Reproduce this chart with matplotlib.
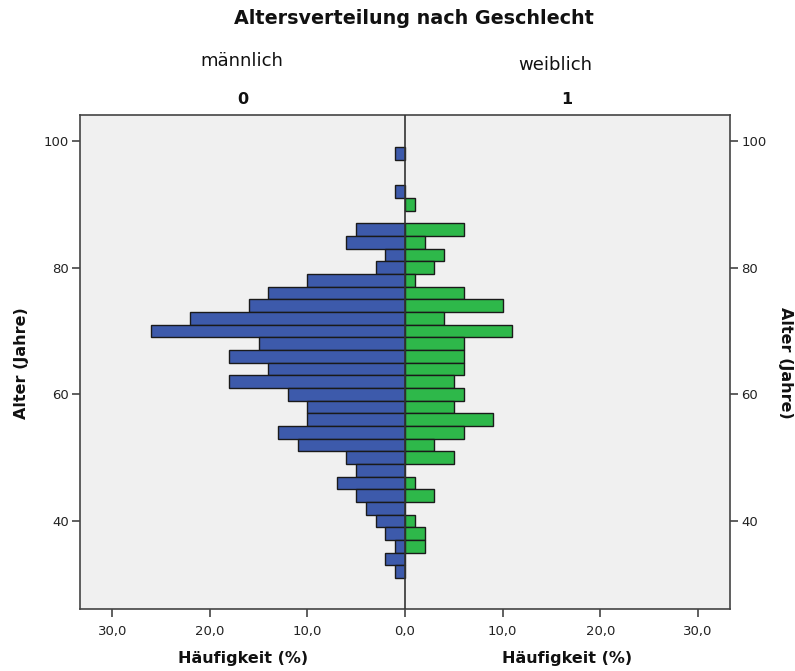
import matplotlib
matplotlib.use("Agg")
import matplotlib.pyplot as plt
from matplotlib.ticker import FixedLocator, FuncFormatter

# Age bins (centre of 2-year bins)
ages = [98, 96, 94, 92, 90, 88, 86, 84, 82, 80, 78, 76, 74, 72, 70, 68, 66, 64,
        62, 60, 58, 56, 54, 52, 50, 48, 46, 44, 42, 40, 38, 36, 34, 32]
male = [1, 0, 0, 1, 0, 0, 5, 6, 2, 3, 10, 14, 16, 22, 26, 15, 18, 14,
        18, 12, 10, 10, 13, 11, 6, 5, 7, 5, 4, 3, 2, 1, 2, 1]
female = [0, 0, 0, 0, 1, 0, 6, 2, 4, 3, 1, 6, 10, 4, 11, 6, 6, 6,
          5, 6, 5, 9, 6, 3, 5, 0, 1, 3, 0, 1, 2, 2, 0, 0]
x_ticks = [-30, -20, -10, 0, 10, 20, 30]
y_ticks = [40, 60, 80, 100]

W, H = 795, 671
fig = plt.figure(figsize=(W / 100, H / 100), dpi=100)
ax = fig.add_axes([80 / W, 1 - 608.5 / H, 650 / W, (608.5 - 115) / H])
ax.set_facecolor("#f0f0f0")

blue = "#3d5aab"
green = "#2eb84a"
mv = [-v for v in male]
ax.barh([a for a, v in zip(ages, male) if v > 0], [v for v in mv if v < 0], height=2,
        color=blue, edgecolor="#1a1a1a", linewidth=1.0, zorder=2)
ax.barh([a for a, v in zip(ages, female) if v > 0], [v for v in female if v > 0], height=2,
        color=green, edgecolor="#1a1a1a", linewidth=1.0, zorder=2)

ax.axvline(0, color="#333333", linewidth=1.2, zorder=3)
ax.set_xlim(-33.3, 33.3)
ax.set_ylim(26.2, 104.1)

for s in ax.spines.values():
    s.set_color("#444444")
    s.set_linewidth(1.2)

ax.xaxis.set_major_locator(FixedLocator(x_ticks))
ax.xaxis.set_major_formatter(FuncFormatter(lambda v, p: f"{abs(v):.1f}".replace(".", ",")))
ax.yaxis.set_major_locator(FixedLocator(y_ticks))
ax.tick_params(axis="x", direction="out", length=6, width=1.2, color="#444444",
               labelsize=9.5, pad=6, labelcolor="#222222")
ax.tick_params(axis="y", direction="out", length=6, width=1.2, color="#444444",
               labelsize=9.5, left=True, right=True, labelleft=True, labelright=True,
               pad=2, labelcolor="#222222")

fig.text(414 / W, 1 - 18 / H, "Altersverteilung nach Geschlecht", ha="center", va="center",
         fontsize=13.8, fontweight="bold", color="#111111")
fig.text(242 / W, 1 - 61 / H, "männlich", ha="center", va="center", fontsize=13, color="#111111")
fig.text(555 / W, 1 - 65 / H, "weiblich", ha="center", va="center", fontsize=13, color="#111111")
fig.text(243 / W, 1 - 99 / H, "0", ha="center", va="center", fontsize=11.5, fontweight="bold", color="#111111")
fig.text(567 / W, 1 - 99 / H, "1", ha="center", va="center", fontsize=11.5, fontweight="bold", color="#111111")
fig.text(243 / W, 1 - 658 / H, "Häufigkeit (%)", ha="center", va="center", fontsize=11.5,
         fontweight="bold", color="#111111")
fig.text(567 / W, 1 - 658 / H, "Häufigkeit (%)", ha="center", va="center", fontsize=11.5,
         fontweight="bold", color="#111111")
fig.text(22 / W, 1 - 363 / H, "Alter (Jahre)", ha="center", va="center", rotation=90,
         fontsize=11.5, fontweight="bold", color="#111111")
fig.text(785 / W, 1 - 363 / H, "Alter (Jahre)", ha="center", va="center", rotation=270,
         fontsize=11.5, fontweight="bold", color="#111111")

fig.savefig("out.png", dpi=100, facecolor="white")
